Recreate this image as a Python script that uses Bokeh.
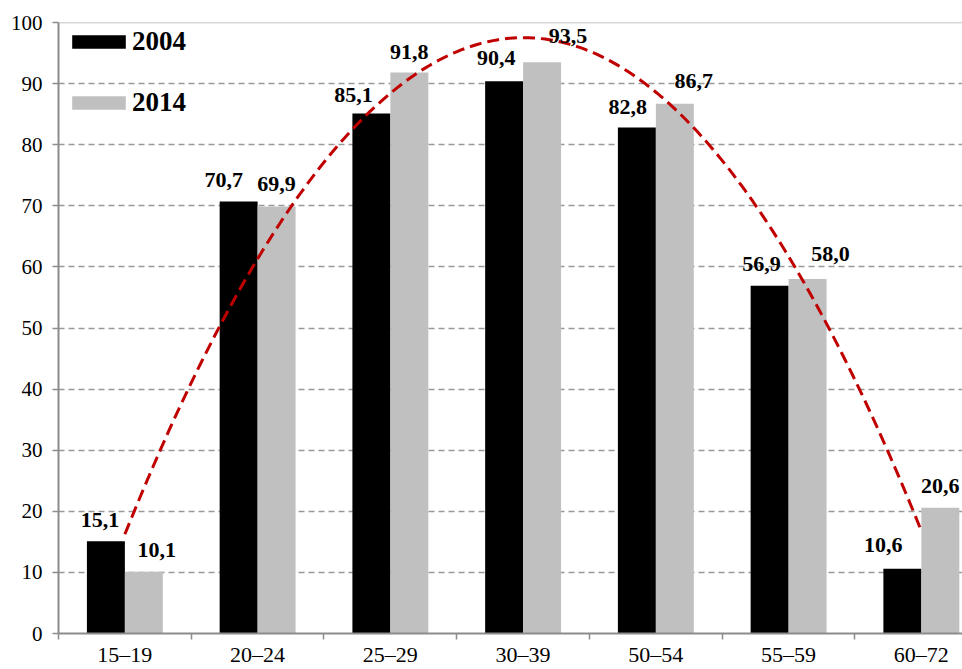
import numpy as np
from bokeh.plotting import figure
from bokeh.models import (ColumnDataSource, Range1d, FixedTicker, LabelSet, Span,
                          Legend, LegendItem)
from bokeh.transform import dodge
from bokeh.embed import file_html
from bokeh.resources import INLINE

# ---- data ----
categories = ["15–19", "20–24", "25–29", "30–39", "50–54", "55–59", "60–72"]
values_2004 = [15.1, 70.7, 85.1, 90.4, 82.8, 56.9, 10.6]
values_2014 = [10.1, 69.9, 91.8, 93.5, 86.7, 58.0, 20.6]
label_2004 = ["15,1", "70,7", "85,1", "90,4", "82,8", "56,9", "10,6"]
label_2014 = ["10,1", "69,9", "91,8", "93,5", "86,7", "58,0", "20,6"]
y_ticks = list(range(0, 101, 10))

# label nudges (screen px) as placed in the original
dx_2004 = [-6, -15, -18, -8, -9, -8, -19]
dy_2004 = [14, 15, 12, 16, 14, 15, 17]
dx_2014 = [13, 0, 0, 26, 19, 23, 0]
dy_2014 = [15, 15, 14, 19, 16, 18, 15]

n = len(categories)
centers = [i + 0.5 for i in range(n)]

src = ColumnDataSource(dict(
    x=centers, v04=values_2004, v14=values_2014,
    l04=label_2004, l14=label_2014,
    dx04=dx_2004, dy04=dy_2004, dx14=dx_2014, dy14=dy_2014,
))

SERIF = "Liberation Serif"
AXIS_COL = "#8c8c8c"

p = figure(width=962, height=669, output_backend="svg", toolbar_location=None,
           x_range=Range1d(0, 6.81), y_range=Range1d(0, 100),
           min_border_left=58, min_border_top=22, min_border_right=0,
           min_border_bottom=20)
p.outline_line_color = None
p.background_fill_color = "white"

bw = 0.286
r04 = p.vbar(x=dodge("x", -bw / 2, range=p.x_range), top="v04", width=bw,
             source=src, fill_color="#000000", line_color=None)
r14 = p.vbar(x=dodge("x", bw / 2, range=p.x_range), top="v14", width=bw,
             source=src, fill_color="#c0c0c0", line_color=None)

# polynomial (2nd order) trend of the 2014 series
coef = np.polyfit(centers, values_2014, 2)
xs = np.linspace(centers[0], centers[-1], 200)
p.line(xs, np.polyval(coef, xs), line_color="#c00000", line_width=3,
       line_dash="12 6")

# data labels
for col, lab, dx, dy, shift in (("v04", "l04", "dx04", "dy04", -bw / 2),
                                ("v14", "l14", "dx14", "dy14", bw / 2)):
    ls = LabelSet(x=dodge("x", shift, range=p.x_range), y=col, text=lab,
                  x_offset=dx, y_offset=dy, source=src,
                  text_align="center", text_baseline="alphabetic",
                  text_font=SERIF, text_font_style="bold",
                  text_font_size="22px", text_color="black")
    p.add_layout(ls)

# top border line
p.add_layout(Span(location=100, dimension="width", line_color="#b0b0b0",
                  line_width=1.5))

# y axis
p.yaxis.ticker = FixedTicker(ticks=y_ticks, minor_ticks=[])
p.yaxis.axis_line_color = AXIS_COL
p.yaxis.axis_line_width = 2
p.yaxis.major_tick_line_color = AXIS_COL
p.yaxis.major_tick_line_width = 1.5
p.yaxis.major_tick_out = 6
p.yaxis.major_tick_in = 0
p.yaxis.major_label_standoff = 10
p.yaxis.major_label_text_font = SERIF
p.yaxis.major_label_text_font_size = "21px"
p.yaxis.major_label_text_color = "black"

# x axis
p.xaxis.ticker = FixedTicker(ticks=centers, minor_ticks=list(range(n + 1)))
p.xaxis.major_label_overrides = {c: lab for c, lab in zip(centers, categories)}
p.xaxis.axis_line_color = AXIS_COL
p.xaxis.axis_line_width = 2
p.xaxis.major_tick_out = 0
p.xaxis.major_tick_in = 0
p.xaxis.minor_tick_out = 6
p.xaxis.minor_tick_in = 0
p.xaxis.minor_tick_line_color = AXIS_COL
p.xaxis.minor_tick_line_width = 1.5
p.xaxis.major_label_standoff = 2
p.xaxis.major_label_text_font = SERIF
p.xaxis.major_label_text_font_size = "22px"
p.xaxis.major_label_text_color = "black"

# grid
p.xgrid.grid_line_color = None
p.ygrid.ticker = FixedTicker(ticks=y_ticks)
p.ygrid.grid_line_color = "#999999"
p.ygrid.grid_line_width = 1.3
p.ygrid.grid_line_dash = "6 4"

legend = Legend(items=[LegendItem(label="2004", renderers=[r04]),
                       LegendItem(label="2014", renderers=[r14])],
                location=(7, 515), orientation="vertical",
                glyph_width=67, glyph_height=17, label_standoff=0,
                label_text_font=SERIF, label_text_font_style="bold",
                label_text_font_size="27px", label_text_color="black",
                spacing=30, padding=0, margin=0,
                border_line_color=None, background_fill_alpha=0)
p.add_layout(legend)

open("out.html", "w").write(file_html(p, INLINE))
